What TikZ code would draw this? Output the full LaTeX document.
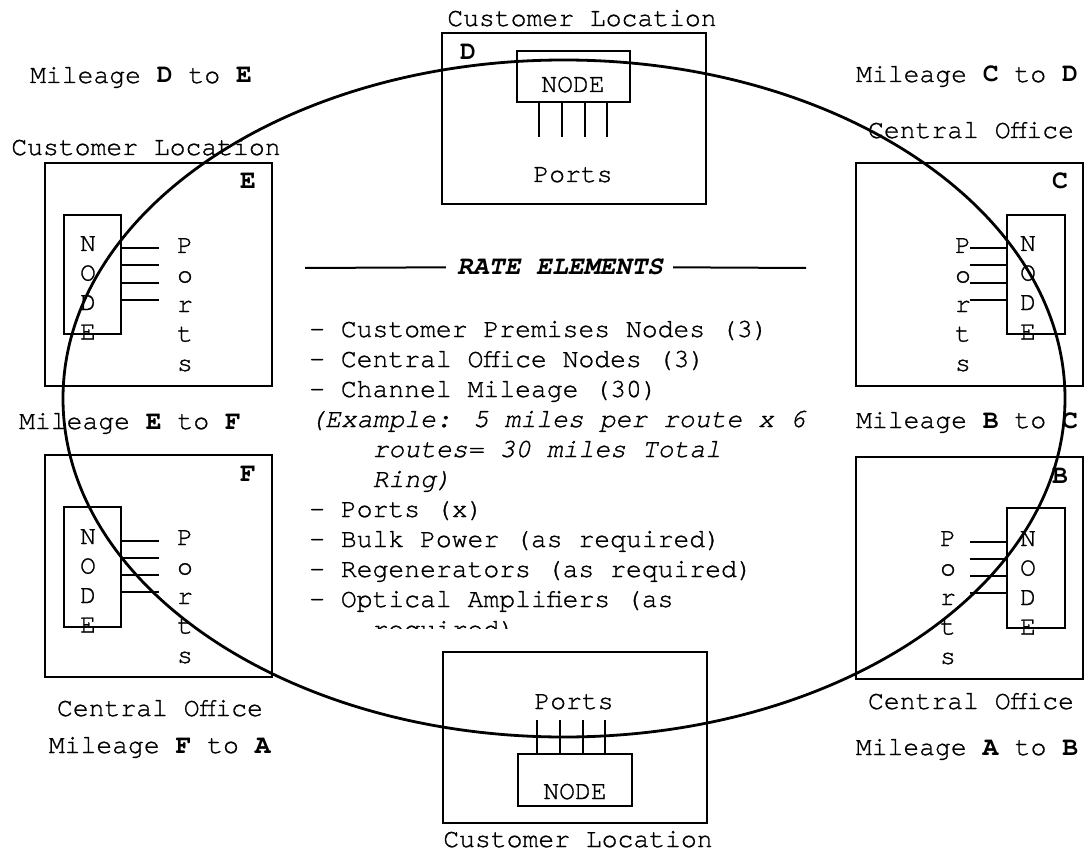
\documentclass[tikz,border=0pt]{standalone}
\usepackage{fontspec}
\setmainfont{texgyrecursor}[Extension=.otf,UprightFont=*-regular,BoldFont=*-bold,ItalicFont=*-italic,BoldItalicFont=*-bolditalic,UprightFeatures={FakeBold=1},ItalicFeatures={FakeBold=1}]
\begin{document}
\begin{tikzpicture}[x=1pt,y=-1pt,
  site/.style={draw,line width=1.8pt,inner sep=0pt,outer sep=0pt},
  nodebox/.style={draw,line width=1.8pt,inner sep=0pt,outer sep=0pt},
  port/.style={line width=2pt},
  lbl/.style={font=\fontsize{26.4}{30}\selectfont,inner sep=0pt,anchor=base},
  tag/.style={lbl,font=\fontsize{26.4}{30}\selectfont\bfseries}]
\useasboundingbox (0,0) rectangle (1089,850);

% the six sites
\node[site,minimum width=264pt,minimum height=171pt] (siteD) at (574,118.5) {};
\node[site,minimum width=264pt,minimum height=171pt] (siteA) at (575,737.5) {};
\node[site,minimum width=227pt,minimum height=223pt] (siteE) at (158.5,274.5) {};
\node[site,minimum width=227pt,minimum height=222pt] (siteF) at (158.5,566) {};
\node[site,minimum width=227pt,minimum height=223pt] (siteC) at (969.5,274.5) {};
\node[site,minimum width=227pt,minimum height=222pt] (siteB) at (969.5,568) {};

\node[tag] (tagD) at (468,60) {D};
\node[tag] (tagE) at (248,189) {E};
\node[tag] (tagF) at (248,481) {F};
\node[tag] (tagC) at (1060,189) {C};
\node[tag] (tagB) at (1060,483) {B};

% nodes inside the sites
\node[nodebox,minimum width=113pt,minimum height=51pt] (nodeD) at (573.3,76.5) {};
\node[nodebox,minimum width=114pt,minimum height=52pt] (nodeA) at (574.7,780) {};
\node[nodebox,minimum width=57pt,minimum height=119pt] (nodeE) at (92.5,274.5) {};
\node[nodebox,minimum width=57pt,minimum height=120pt] (nodeF) at (92.5,567) {};
\node[nodebox,minimum width=58pt,minimum height=119pt] (nodeC) at (1036,274.5) {};
\node[nodebox,minimum width=58pt,minimum height=120pt] (nodeB) at (1036,568) {};

\node[lbl] (txtD) at (573,92) {NODE};
\node[lbl] (portsD) at (573,182) {Ports};
\node[lbl] (txtA) at (575,799) {NODE};
\node[lbl] (portsA) at (574,709) {Ports};

\foreach \ch [count=\i from 0] in {N,O,D,E} {
  \node[lbl] (txtE\i) at (88,251+29.5*\i) {\ch};
  \node[lbl] (txtF\i) at (88,544+29.5*\i) {\ch};
  \node[lbl] (txtC\i) at (1028,251+29.5*\i) {\ch};
  \node[lbl] (txtB\i) at (1028,546+29.5*\i) {\ch};
}
\foreach \ch [count=\i from 0] in {P,o,r,t,s} {
  \node[lbl] (portsE\i) at (185,253+29.5*\i) {\ch};
  \node[lbl] (portsF\i) at (185,545+29.5*\i) {\ch};
  \node[lbl] (portsC\i) at (963,253+29.5*\i) {\ch};
  \node[lbl] (portsB\i) at (948,546+29.5*\i) {\ch};
}

% port lines
\foreach \dx in {-34,-11,11.4,34}
  \draw[port] (nodeD.south) ++(\dx,0) -- ++(0,35);
\foreach \dx in {-37.4,-14.7,8,30.6}
  \draw[port] (nodeA.north) ++(\dx,0) -- ++(0,-34);
\foreach \dy in {-26.5,-9,8.5,25.5} {
  \draw[port] (nodeE.east) ++(0,\dy) -- ++(38,0);
  \draw[port] (nodeC.west) ++(0,\dy) -- ++(-37,0);
}
\foreach \dy in {-26,-9,8,25} {
  \draw[port] (nodeF.east) ++(0,\dy) -- ++(38,0);
  \draw[port] (nodeB.west) ++(0,\dy) -- ++(-37,0);
}

% captions round the ring
\node[lbl] (locD) at (582,26) {Customer Location};
\node[lbl] (locE) at (146,155) {Customer Location};
\node[lbl] (locA) at (578,847) {Customer Location};
\node[lbl] (coC) at (971,138) {Central Office};
\node[lbl] (coF) at (160,716) {Central Office};
\node[lbl] (coB) at (971,709) {Central Office};
\node[lbl] (milDE) at (141,83) {Mileage \textbf{D} to \textbf{E}};
\node[lbl] (milCD) at (967,82) {Mileage \textbf{C} to \textbf{D}};
\node[lbl] (milEF) at (130,429) {Mileage \textbf{E} to \textbf{F}};
\node[lbl] (milBC) at (967,428) {Mileage \textbf{B} to \textbf{C}};
\node[lbl] (milFA) at (160,753) {Mileage \textbf{F} to \textbf{A}};
\node[lbl] (milAB) at (967,755) {Mileage \textbf{A} to \textbf{B}};

% rate elements
\node[lbl,font=\fontsize{26.4}{30}\selectfont\bfseries\itshape] (rate) at (560,275) {RATE ELEMENTS};
\draw[port] ([xshift=-11pt]rate.west) -- (305,268);
\draw[port] ([xshift=10pt]rate.east) -- (806,268);

\begin{scope}
\clip (290,300) rectangle (840,628);
\foreach \item [count=\i from 0] in {
  {- Customer Premises Nodes (3)},
  {- Central Office Nodes (3)},
  {- Channel Mileage (30)},
  {\itshape (Example: 5 miles per route x 6},
  {\hspace*{63.4pt}\itshape routes= 30 miles Total},
  {\hspace*{63.4pt}\itshape Ring)},
  {- Ports (x)},
  {- Bulk Power (as required)},
  {- Regenerators (as required)},
  {- Optical Amplifiers (as},
  {\hspace*{63.4pt}required)}}
  \node[lbl,anchor=base west] (item\i) at (309,337+30*\i) {\item};
\end{scope}

% the ring
\draw[line width=2.8pt] (564,398.5) ellipse [x radius=501pt, y radius=338.5pt];
\end{tikzpicture}
\end{document}
